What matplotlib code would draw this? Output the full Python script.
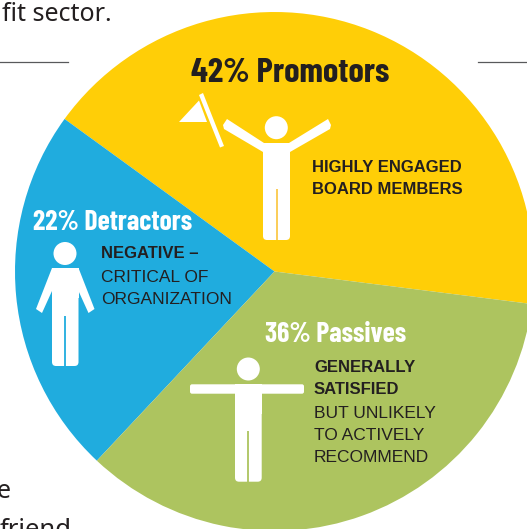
import matplotlib
matplotlib.use("Agg")
import matplotlib.pyplot as plt
from matplotlib.patches import Polygon, Circle, FancyBboxPatch

W, H = 527, 529

segments = ["Promotors", "Detractors", "Passives"]
slice_shares = [42, 23, 35]
colors = ["#FFCE07", "#20ACDE", "#ADC45F"]

INK = "#231F20"
HEAD_FONT = ["Barlow Condensed", "Liberation Sans"]
BODY_FONT = "Liberation Sans"


def Y(y):
    # picture y (down) to axes y (up)
    return H - y


def poly(points, color="white"):
    ax.add_patch(Polygon([(x, Y(y)) for x, y in points], closed=True, fc=color, ec="none", zorder=3))


def head(x, y, r=11.5):
    ax.add_patch(Circle((x, Y(y)), r, fc="white", ec="none", zorder=3))


def body(x0, x1, y0, y1, gap_y, gap_color):
    # torso and legs, rounded feet, thin line between the legs
    ax.add_patch(FancyBboxPatch((x0 + 4, Y(y1) + 4), x1 - x0 - 8, y1 - y0 - 8,
                                boxstyle="round,pad=4,rounding_size=4", fc="white", ec="none", zorder=3))
    poly([(x0, y0), (x1, y0), (x1, y0 + 30), (x0, y0 + 30)])
    mid = (x0 + x1) / 2
    ax.plot([mid, mid], [Y(gap_y), Y(y1)], color=gap_color, lw=1.3, zorder=4, solid_capstyle="butt")


def label(x, y, s, size, color=INK, weight="normal", family=BODY_FONT, **kw):
    ax.text(x, Y(y), s, fontsize=size, color=color, fontweight=weight, family=family,
            va="center", zorder=5, **kw)


fig = plt.figure(figsize=(W / 100, H / 100), dpi=100)
ax = fig.add_axes([0, 0, 1, 1])

ax.pie(slice_shares, colors=colors, startangle=-7.2, counterclock=True,
       center=(274.5, Y(271.5)), radius=259.5, frame=True, wedgeprops={"linewidth": 0})
ax.set_xlim(0, W)
ax.set_ylim(0, H)
ax.set_aspect("equal")
ax.axis("off")

# rules either side of the pie
ax.plot([0, 68], [Y(62), Y(62)], color="#58595B", lw=0.9)
ax.plot([478, W], [Y(62), Y(62)], color="#58595B", lw=0.9)

# surrounding page text
ax.text(2, Y(21), "fit sector.", fontsize=18, color=INK, family="Noto Sans", va="baseline")
ax.text(-3, Y(498), "e", fontsize=18, color=INK, family="Noto Sans", va="baseline")
ax.text(0, Y(537), "friend", fontsize=18.5, color=INK, family="Noto Sans", va="baseline")

# promotor figure with flag
head(276.3, 127.7)
body(263, 290, 143, 240, 189, "#FBC94A")
poly([(264, 143), (227, 119), (223, 125), (224, 129), (263, 152)])
poly([(289, 143), (328, 119), (331, 125), (330, 129), (290, 152)])
poly([(199, 95), (203, 93), (224, 146), (220, 147.5)])
poly([(179, 122), (199, 100.5), (207, 122)])

# detractor figure
head(65, 253.5)
body(52, 78.5, 268, 366, 316, "#20ACDE")
poly([(52, 268), (36, 309), (42, 313), (52, 291)])
poly([(78.5, 268), (94.5, 309), (88.5, 313), (78.5, 291)])

# passive figure
head(248.3, 369)
body(235, 261.7, 384, 481.7, 431, "#ADC45F")
ax.add_patch(FancyBboxPatch((192, Y(393.7) + 2), 110, 5.4, boxstyle="round,pad=2,rounding_size=2",
                            fc="white", ec="none", zorder=3))

# headings
label(290.5, 73.5, "42% Promotors", 25, weight="bold", family=HEAD_FONT, ha="center")
label(112.5, 223, "22% Detractors", 20, color="white", weight="bold", family=HEAD_FONT, ha="center")
label(336, 335, "36% Passives", 20, color="white", weight="bold", family=HEAD_FONT, ha="center")

# descriptions
label(312, 167, "HIGHLY ENGAGED", 12, weight="bold")
label(312, 189, "BOARD MEMBERS", 12, weight="bold")
label(101, 254, "NEGATIVE \u2013", 12, weight="bold")
label(101, 277, "CRITICAL OF", 12.5)
label(101, 299, "ORGANIZATION", 12.5)
label(314, 367, "GENERALLY", 12, weight="bold")
label(314, 390, "SATISFIED", 12, weight="bold")
label(314, 413, "BUT UNLIKELY", 12.5)
label(314, 435, "TO ACTIVELY", 12.5)
label(314, 458, "RECOMMEND", 12.5)

fig.savefig("out.png", dpi=100)
